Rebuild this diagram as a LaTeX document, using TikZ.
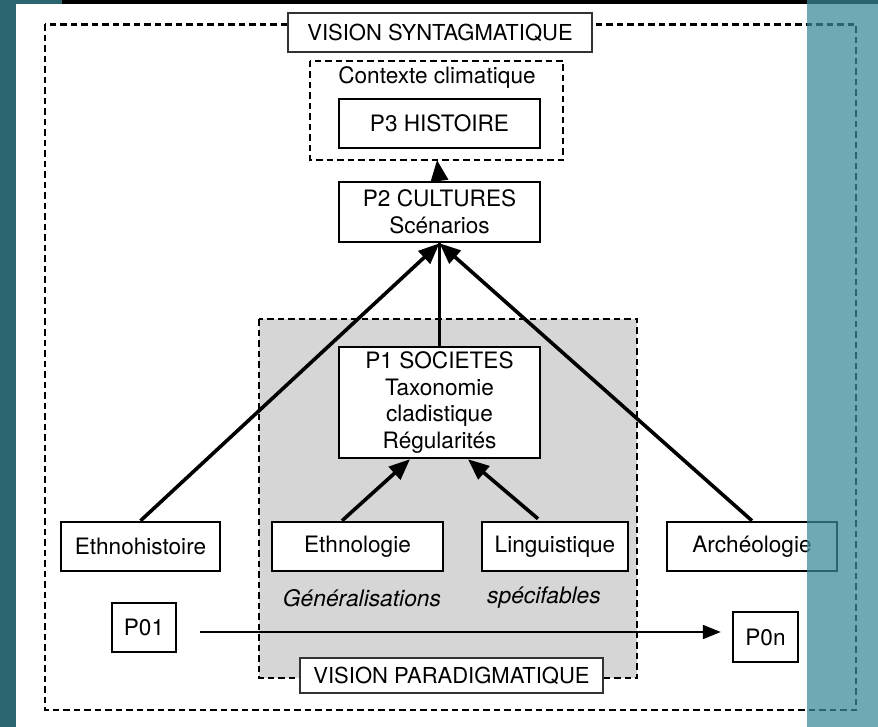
\documentclass[tikz,border=0pt]{standalone}
\usepackage{fontspec}
\setmainfont{TeX Gyre Heros}
\usetikzlibrary{arrows.meta}
\definecolor{tealdark}{RGB}{43,101,112}
\definecolor{tealover}{RGB}{58,138,153}
\definecolor{grayfill}{RGB}{214,214,214}
\definecolor{thinborder}{RGB}{50,50,50}
\tikzset{
  box/.style={draw=black, line width=2.5pt, fill=white, inner sep=0pt, align=center,
    font=\fontsize{22.6}{26.5}\selectfont},
  visionbox/.style={draw=thinborder, line width=1.3pt, fill=white, inner sep=0pt, align=center,
    font=\fontsize{22}{26}\selectfont},
  dashbox/.style={draw=black, line width=2.6pt, dash pattern=on 6.5pt off 4pt},
  label/.style={inner sep=0pt, font=\fontsize{22.6}{26}\selectfont},
  bigarrow/.style={line width=3.6pt, -{Triangle[length=21pt,width=17pt]}},
  plainline/.style={line width=3.6pt},
}
\begin{document}
\begin{tikzpicture}[x=1pt,y=-1pt]
% background
\fill[white] (0,0) rectangle (878,727);
\useasboundingbox (0,0) rectangle (878,727);
\fill[tealdark] (0,0) rectangle (16,727);
\fill[tealdark] (0,0) rectangle (62,4);
\fill[black] (62,0) rectangle (878,4);

% dashed frames
\draw[dashbox] (45,24.5) rectangle (856,710);
\draw[dashbox, fill=grayfill] (259,319) rectangle (637,678);
\draw[dashbox] (310,61) rectangle (563,160);
\coordinate (ctxS) at (437,160);

% nodes
\node[visionbox, minimum width=304pt, minimum height=39pt] (vs) at (440,32.5) {VISION SYNTAGMATIQUE};
\node[label] (ctx) at (437,78) {Contexte climatique};
\node[box, minimum width=201pt, minimum height=49pt] (p3) at (439.5,123.5) {P3 HISTOIRE};
\node[box, minimum width=201pt, minimum height=60pt] (p2) at (439.5,212) {P2 CULTURES\\Scénarios};
\node[box, minimum width=201pt, minimum height=111pt] (p1) at (439.5,402.5) {P1 SOCIETES\\Taxonomie\\cladistique\\Régularités};
\node[box, minimum width=159pt, minimum height=49pt] (eh) at (140.5,546.5) {Ethnohistoire};
\node[box, minimum width=171pt, minimum height=49pt] (eth) at (357.5,546.5) {Ethnologie};
\node[box, minimum width=146pt, minimum height=49pt] (lin) at (555,546.5) {Linguistique};
\node[box, minimum width=170pt, minimum height=49pt] (arc) at (752,546.5) {Archéologie};
\node[label, font=\fontsize{22.8}{26}\selectfont\itshape] (gen) at (362,598) {Généralisations};
\node[label, font=\fontsize{22.8}{26}\selectfont\itshape] (spe) at (544,598) {spécifables};
\node[box, minimum width=64pt, minimum height=49pt] (p01) at (144,627.5) {P01};
\node[box, minimum width=65pt, minimum height=50pt] (p0n) at (765.5,637) {P0n};
\node[visionbox, minimum width=303pt, minimum height=35pt] (vp) at (451.5,675.5) {VISION PARADIGMATIQUE};

% connectors
\draw[bigarrow] (p2.north) -- (ctxS);
\draw[plainline] (p1.north) -- (p2.south);
\draw[bigarrow] (eh.north) -- (p2.south);
\draw[bigarrow] (arc.north) -- (p2.south);
\draw[bigarrow] ([xshift=-15.5pt]eth.north) -- ([xshift=-29.5pt]p1.south);
\draw[bigarrow] ([xshift=-17pt,yshift=2pt]lin.north) -- ([xshift=28.5pt]p1.south);
\draw[line width=2pt, -{Triangle[length=18pt,width=14pt]}]
  ([xshift=23pt,yshift=-4.5pt]p01.east) -- ([xshift=-11pt,yshift=5pt]p0n.west);

% right overlay
\fill[tealover, opacity=0.73] (807,0) rectangle (878,727);
\end{tikzpicture}
\end{document}
